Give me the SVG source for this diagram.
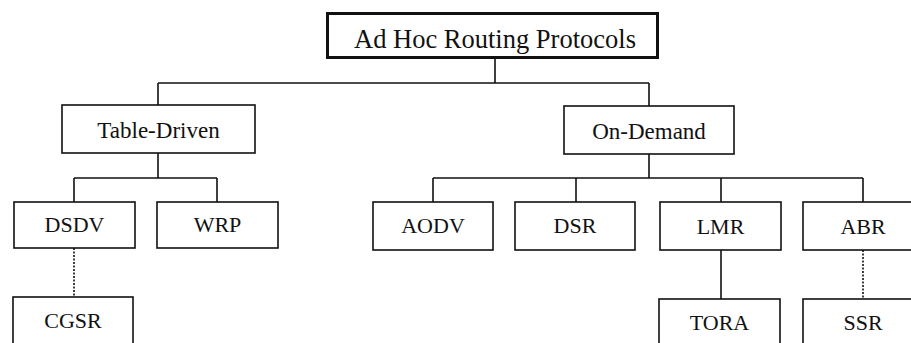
<svg xmlns="http://www.w3.org/2000/svg" width="911" height="343" viewBox="0 0 911 343">
<style>
  .box { fill: #fff; stroke: #111; stroke-width: 1.6; }
  .top { fill: #fff; stroke: #111; stroke-width: 3; }
  .lbl { font-family: "Liberation Serif", "Times New Roman", serif; font-size: 22px; fill: #111; text-anchor: middle; }
  .lblMid { font-family: "Liberation Serif", "Times New Roman", serif; font-size: 23px; fill: #111; text-anchor: middle; }
  .lblTop { font-family: "Liberation Serif", "Times New Roman", serif; font-size: 26.5px; fill: #111; text-anchor: middle; }
  .conn { fill: none; stroke: #111; stroke-width: 1.6; }
  .dot { fill: none; stroke: #111; stroke-width: 1.6; stroke-dasharray: 2 1.5; }
</style>
<rect width="911" height="343" fill="#fff"/>
<g id="connectors">
  <path class="conn" d="M495 59 V83 M158 83 H649 M158 83 V105 M649 83 V106"/>
  <path class="conn" d="M158 153 V178 M74 178 H217 M74 178 V202 M217 178 V202"/>
  <path class="conn" d="M649 154 V178 M433 178 H863 M433 178 V202 M576 178 V202 M721 178 V202 M863 178 V202"/>
  <path class="conn" d="M721 250 V299"/>
  <path class="dot" d="M74 248 V297"/>
  <path class="dot" d="M863 250 V299"/>
</g>
<g id="root">
  <rect class="top" x="327.5" y="13.5" width="330" height="44"/>
  <text class="lblTop" x="495" y="48">Ad Hoc Routing Protocols</text>
</g>
<g id="table-driven">
  <rect class="box" x="62" y="105" width="193" height="48"/>
  <text class="lblMid" x="158.5" y="138">Table-Driven</text>
</g>
<g id="on-demand">
  <rect class="box" x="564" y="106" width="170" height="48"/>
  <text class="lblMid" x="649" y="139">On-Demand</text>
</g>
<g id="dsdv">
  <rect class="box" x="14" y="202" width="121" height="46"/>
  <text class="lbl" x="74.5" y="232">DSDV</text>
</g>
<g id="wrp">
  <rect class="box" x="157" y="202" width="121" height="46"/>
  <text class="lbl" x="217.5" y="232">WRP</text>
</g>
<g id="aodv">
  <rect class="box" x="373" y="202" width="120" height="48"/>
  <text class="lbl" x="433" y="233">AODV</text>
</g>
<g id="dsr">
  <rect class="box" x="515" y="202" width="120" height="48"/>
  <text class="lbl" x="575" y="233">DSR</text>
</g>
<g id="lmr">
  <rect class="box" x="660" y="202" width="121" height="48"/>
  <text class="lbl" x="720.5" y="234">LMR</text>
</g>
<g id="abr">
  <rect class="box" x="803" y="202" width="121" height="48"/>
  <text class="lbl" x="863" y="234">ABR</text>
</g>
<g id="cgsr">
  <rect class="box" x="13" y="297" width="120" height="60"/>
  <text class="lbl" x="73" y="328">CGSR</text>
</g>
<g id="tora">
  <rect class="box" x="659" y="299" width="121" height="60"/>
  <text class="lbl" x="719.5" y="330">TORA</text>
</g>
<g id="ssr">
  <rect class="box" x="803" y="299" width="121" height="60"/>
  <text class="lbl" x="863" y="330">SSR</text>
</g>
</svg>
